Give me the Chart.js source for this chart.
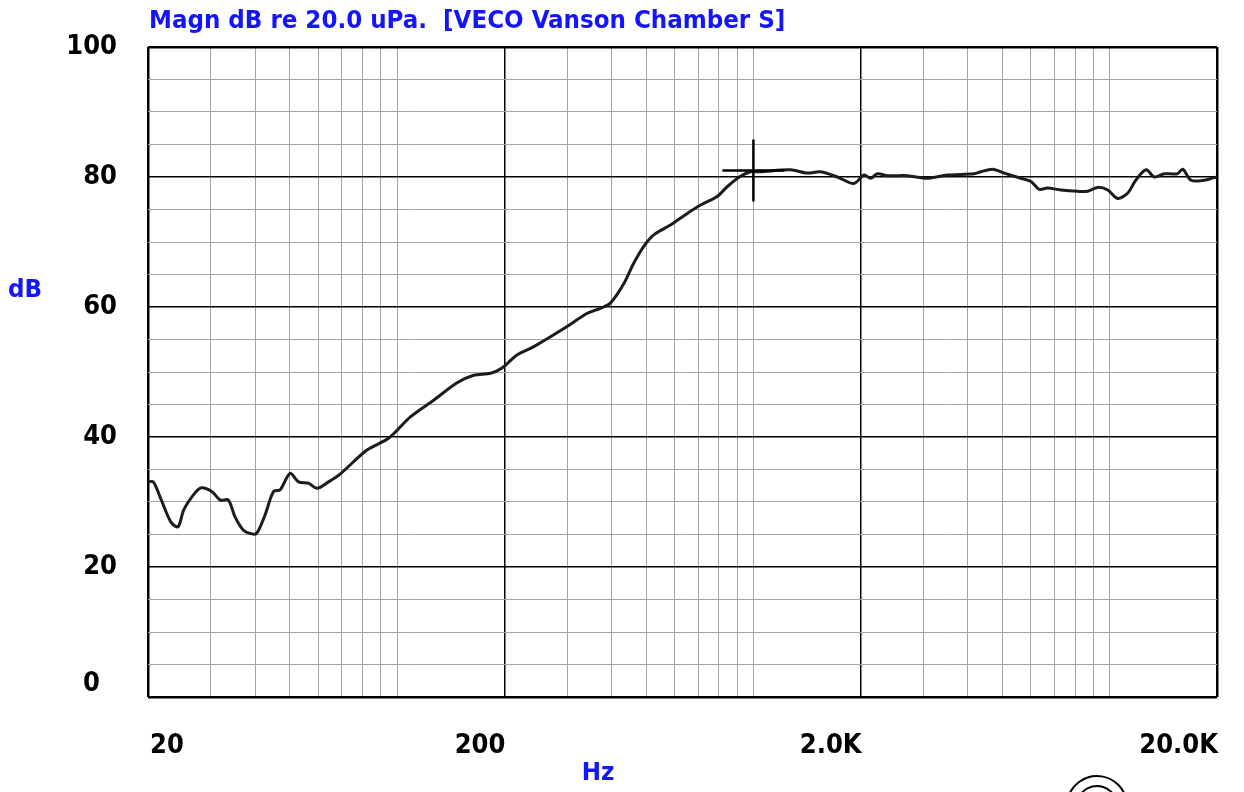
<!DOCTYPE html>
<html lang="en">
<head>
  <meta charset="UTF-8" />
  <title>Magn dB re 20.0 uPa</title>
  <script src="https://cdn.jsdelivr.net/npm/chart.js"></script>
  <style>
    body { margin: 0; background: #fff; }
    canvas { display: block; }
  </style>
</head>
<body>
  <canvas id="grafico" width="1244" height="792"></canvas>
  <script>
    // curve (Hz, dB)
    const freqs = [20, 20.7, 21.8, 23.2, 24.3, 25.2, 27.1, 28.3, 30.2, 31.9, 33.6, 35.1, 37.0, 39.1, 40.4, 42.6,
      45.0, 47.0, 50.1, 52.9, 56.4, 59.6, 64.2, 69.2, 82.3, 94.6, 109, 127, 147, 164, 183, 197, 217, 242, 300,
      341, 372, 397, 433, 461, 492, 525, 585, 652, 711, 791, 844, 920, 982, 1040, 1271, 1416, 1545, 1720, 1914,
      2043, 2133, 2228, 2376, 2705, 3077, 3500, 4160, 4347, 4690, 5060, 5630, 6010, 6340, 6690, 7290, 8130, 8670,
      9250, 9870, 10520, 11220, 11830, 12650, 13340, 14230, 15500, 16020, 16910, 18420, 19640, 20000];
    const levels = [33.1, 33.1, 30.3, 26.9, 26.2, 28.8, 31.4, 32.2, 31.6, 30.3, 30.3, 27.7, 25.7, 25.1, 25.2, 28.0,
      31.6, 31.9, 34.4, 33.1, 32.9, 32.1, 33.1, 34.3, 38.0, 39.8, 43.1, 45.7, 48.3, 49.5, 49.8, 50.6, 52.6, 53.9, 57.0,
      59.0, 59.8, 60.6, 63.6, 66.7, 69.3, 71.1, 72.6, 74.4, 75.7, 77.0, 78.5, 80.1, 80.8, 80.8, 81.1, 80.6, 80.8, 80.0, 79.0,
      80.3, 79.8, 80.5, 80.2, 80.2, 79.8, 80.3, 80.5, 80.8, 81.2, 80.6, 79.8, 79.3, 78.1, 78.3, 78.0, 77.8, 77.8,
      78.4, 78.0, 76.7, 77.5, 79.5, 81.1, 80.0, 80.5, 80.5, 81.2, 79.5, 79.5, 79.9, 80.0];

    // cursor marker
    const cursorFreq = [1000];
    const cursorLevel = [81];

    // axes
    const xGridFreqs = [20, 30, 40, 50, 60, 70, 80, 90, 100, 200, 300, 400, 500, 600, 700, 800, 900, 1000,
      2000, 3000, 4000, 5000, 6000, 7000, 8000, 9000, 10000, 20000];
    const xMajorFreqs = [20, 200, 2000, 20000];
    const xLabelText = ['20', '200', '2.0K', '20.0K'];
    const yLabelValues = [0, 20, 40, 60, 80, 100];
    const yLabelText = ['0', '20', '40', '60', '80', '100'];

    const tituloTexto = 'Magn dB re 20.0 uPa.  [VECO Vanson Chamber S]';
    const azul = '#1414ff';
    const fuenteNum = 'bold 27px "DejaVu Sans Condensed", "Liberation Sans Narrow", sans-serif';
    const fuenteTitulo = 'bold 25.6px "DejaVu Sans Condensed", "Liberation Sans Narrow", sans-serif';

    const textos = {
      id: 'textos',
      afterDraw(chart) {
        const ctx = chart.ctx;
        const xs = chart.scales.x, ys = chart.scales.y;
        ctx.save();
        ctx.textBaseline = 'middle';
        // title
        ctx.fillStyle = azul;
        ctx.font = fuenteTitulo;
        ctx.textAlign = 'left';
        ctx.fillText(tituloTexto, 149, 21);
        // axis names
        ctx.textAlign = 'center';
        ctx.fillText('dB', 25, 290);
        ctx.fillText('Hz', 598, 773);
        // y labels
        ctx.fillStyle = '#000';
        ctx.font = fuenteNum;
        yLabelValues.forEach((v, i) => {
          const y = ys.getPixelForValue(v);
          if (yLabelText[i].length === 1) {
            ctx.textAlign = 'left';
            ctx.fillText(yLabelText[i], 83, y - 13);
          } else {
            ctx.textAlign = 'right';
            ctx.fillText(yLabelText[i], 117, y);
          }
        });
        // x labels
        xMajorFreqs.forEach((v, i) => {
          const x = xs.getPixelForValue(v);
          if (i === 0) {
            ctx.textAlign = 'left';
            ctx.fillText(xLabelText[i], x + 2, 746);
          } else {
            ctx.textAlign = 'right';
            ctx.fillText(xLabelText[i], x + 1, 746);
          }
        });
        // logo peeking in at the bottom
        ctx.strokeStyle = '#000';
        ctx.lineWidth = 2;
        ctx.beginPath();
        ctx.arc(1097, 806, 30, Math.PI * 1.05, Math.PI * 1.95);
        ctx.stroke();
        ctx.beginPath();
        ctx.arc(1097, 806, 20, Math.PI * 1.1, Math.PI * 1.9);
        ctx.stroke();
        ctx.restore();
      }
    };

    const esMayorX = v => xMajorFreqs.includes(v);
    const esBordeX = v => v === 20 || v === 20000;

    new Chart(document.getElementById('grafico'), {
      type: 'line',
      data: {
        datasets: [
          {
            data: cursorFreq.map((f, i) => ({ x: f, y: cursorLevel[i] })),
            showLine: false,
            pointStyle: 'cross',
            pointRadius: 31,
            pointBorderWidth: 2.5,
            pointBorderColor: '#000',
            borderColor: '#000',
            order: 1
          },
          {
            data: freqs.map((f, i) => ({ x: f, y: levels[i] })),
            borderColor: '#1c1c1c',
            borderWidth: 3,
            pointRadius: 0,
            tension: 0.3,
            order: 2
          }
        ]
      },
      options: {
        responsive: false,
        animation: false,
        layout: { autoPadding: false, padding: { left: 148, top: 47, right: 27, bottom: 95 } },
        plugins: { legend: { display: false }, tooltip: { enabled: false } },
        scales: {
          x: {
            type: 'logarithmic',
            min: 20,
            max: 20000,
            afterBuildTicks: s => { s.ticks = xGridFreqs.map(v => ({ value: v })); },
            ticks: { display: false },
            border: { display: false },
            grid: {
              drawTicks: false,
              color: c => esMayorX(c.tick.value) ? '#000' : '#a4a4a4',
              lineWidth: c => esBordeX(c.tick.value) ? 2.5 : (esMayorX(c.tick.value) ? 1.5 : 1)
            }
          },
          y: {
            type: 'linear',
            min: 0,
            max: 100,
            ticks: { display: false, stepSize: 5 },
            border: { display: false },
            grid: {
              drawTicks: false,
              color: c => c.tick.value % 20 === 0 ? '#000' : '#a4a4a4',
              lineWidth: c => (c.tick.value === 0 || c.tick.value === 100) ? 2.5 : (c.tick.value % 20 === 0 ? 1.5 : 1)
            }
          }
        }
      },
      plugins: [textos]
    });
  </script>
</body>
</html>
